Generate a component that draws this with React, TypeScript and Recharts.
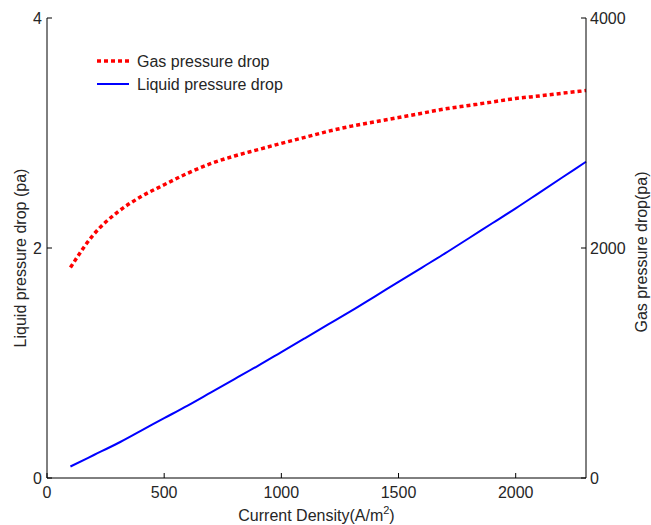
import React from 'react';
import { LineChart, Line, XAxis, YAxis } from 'recharts';

// current density (A/m^2)
const density = [100, 200, 300, 400, 500, 600, 700, 800, 900, 1000, 1100, 1200, 1300, 1400, 1500, 1600, 1700, 1800, 1900, 2000, 2100, 2200, 2300];
// liquid pressure drop (pa), left axis
const liquidDrop = [0.10, 0.20, 0.30, 0.41, 0.52, 0.63, 0.745, 0.86, 0.975, 1.095, 1.215, 1.335, 1.455, 1.58, 1.705, 1.83, 1.955, 2.085, 2.215, 2.345, 2.48, 2.615, 2.75];
// gas pressure drop (pa), right axis
const gasDrop = [1830, 2120, 2310, 2445, 2550, 2650, 2735, 2800, 2855, 2910, 2962, 3015, 3060, 3098, 3135, 3172, 3210, 3240, 3270, 3300, 3322, 3346, 3370];

const xTicks = [0, 500, 1000, 1500, 2000];
const leftTicks = [0, 2, 4];
const rightTicks = [0, 2000, 4000];

const data = density.map((x, i) => ({ x, liquid: liquidDrop[i], gas: gasDrop[i] }));

const FONT = '"Liberation Sans", Arial, sans-serif';
const TXT = '#262626';
const FS = 16;

const XTick = ({ x, y, payload }: any) => (
  <g>
    <line x1={x} x2={x} y1={y} y2={y - 5} stroke="#000" />
    <text x={x} y={y + 20} textAnchor="middle" fontSize={FS} fill={TXT} fontFamily={FONT}>{payload.value}</text>
  </g>
);

const LeftTick = ({ x, y, payload }: any) => (
  <g>
    <line x1={x} x2={x + 5} y1={y} y2={y} stroke="#000" />
    <text x={x - 5} y={y + 6} textAnchor="end" fontSize={FS} fill={TXT} fontFamily={FONT}>{payload.value}</text>
  </g>
);

const RightTick = ({ x, y, payload }: any) => (
  <g>
    <line x1={x} x2={x - 5} y1={y} y2={y} stroke="#000" />
    <text x={x + 4} y={y + 6} textAnchor="start" fontSize={FS} fill={TXT} fontFamily={FONT}>{payload.value}</text>
  </g>
);

const XLabel = ({ viewBox }: any) => {
  const cx = viewBox.x + viewBox.width / 2;
  return (
    <text x={cx} y={viewBox.y + 43} textAnchor="middle" fontSize={FS} fill={TXT} fontFamily={FONT}>
      Current Density(A/m<tspan dy={-7} fontSize={11}>2</tspan><tspan dy={7}>)</tspan>
    </text>
  );
};

const VLabel = ({ cx, cy, text }: any) => (
  <text
    x={cx}
    y={cy}
    transform={`rotate(-90, ${cx}, ${cy})`}
    textAnchor="middle"
    dominantBaseline="central"
    fontSize={FS}
    fill={TXT}
    fontFamily={FONT}
  >
    {text}
  </text>
);

export default function App() {
  return (
    <div style={{ position: 'fixed', left: 0, top: 0, width: 651, height: 525, background: '#fff' }}>
      <LineChart width={651} height={525} data={data} margin={{ top: 18, right: 0, bottom: 0, left: 0 }}>
        <XAxis
          dataKey="x"
          type="number"
          domain={[0, 2300]}
          ticks={xTicks}
          height={47}
          tickSize={0}
          tickMargin={0}
          tick={<XTick />}
          axisLine={{ stroke: '#000' }}
          label={<XLabel />}
        />
        <YAxis
          yAxisId="left"
          domain={[0, 4]}
          ticks={leftTicks}
          width={47}
          tickSize={0}
          tickMargin={0}
          tick={<LeftTick />}
          axisLine={{ stroke: '#000' }}
          label={(p: any) => <VLabel cx={p.viewBox.x + 20} cy={p.viewBox.y + p.viewBox.height / 2 + 10} text="Liquid pressure drop (pa)" />}
        />
        <YAxis
          yAxisId="right"
          orientation="right"
          domain={[0, 4000]}
          ticks={rightTicks}
          width={65}
          tickSize={0}
          tickMargin={0}
          tick={<RightTick />}
          axisLine={{ stroke: '#000' }}
          label={(p: any) => <VLabel cx={p.viewBox.x + 55} cy={p.viewBox.y + p.viewBox.height / 2 + 4} text="Gas pressure drop(pa)" />}
        />
        <Line yAxisId="right" dataKey="gas" type="monotone" stroke="#ff0000" strokeWidth={3.5} strokeDasharray="4 3" dot={false} isAnimationActive={false} />
        <Line yAxisId="left" dataKey="liquid" type="monotone" stroke="#0000ff" strokeWidth={2} dot={false} isAnimationActive={false} />
      </LineChart>

      {/* legend, no box */}
      <div style={{ position: 'absolute', left: 95, top: 50, fontFamily: FONT, fontSize: FS, color: TXT, lineHeight: '23px' }}>
        <div style={{ display: 'flex', alignItems: 'center' }}>
          <svg width={42} height={23}>
            <line x1={2} x2={34} y1={11} y2={11} stroke="#ff0000" strokeWidth={3.5} strokeDasharray="4 3" />
          </svg>
          <span>Gas pressure drop</span>
        </div>
        <div style={{ display: 'flex', alignItems: 'center' }}>
          <svg width={42} height={23}>
            <line x1={2} x2={34} y1={11} y2={11} stroke="#0000ff" strokeWidth={2} />
          </svg>
          <span>Liquid pressure drop</span>
        </div>
      </div>
    </div>
  );
}
